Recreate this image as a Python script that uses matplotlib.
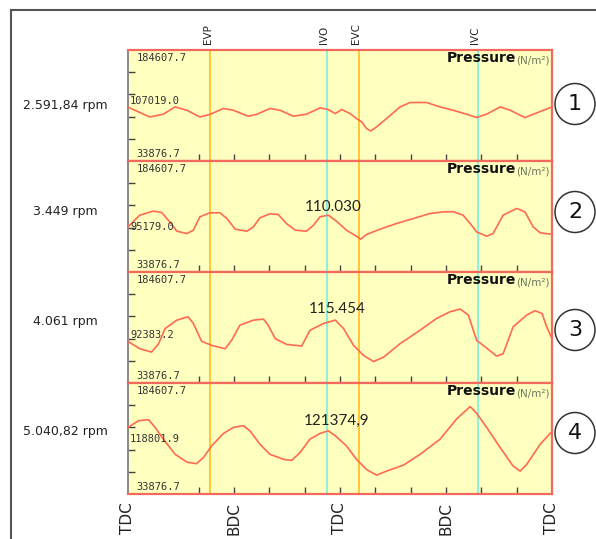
import matplotlib.pyplot as plt
from matplotlib.patches import Ellipse
from matplotlib.lines import Line2D

# crank angle (deg) and cylinder pressure (N/m2), one pair per engine speed
ang1 = [0, 37, 60, 80, 100, 122, 140, 162, 179, 204, 219, 241, 258, 281, 303, 326, 340,
        352, 363, 377, 388, 397, 405, 412, 422, 439, 462, 479, 507, 530, 552, 575, 592,
        609, 632, 649, 674, 694, 720]
pres1 = [107000, 93700, 97400, 107300, 102800, 93700, 97400, 105200, 102800, 94700, 97400,
         105200, 102800, 94700, 97400, 106000, 103800, 98300, 103800, 98300, 91500, 86900,
         77900, 74600, 80100, 91500, 107300, 113300, 113300, 107300, 102800, 97400, 92900,
         97400, 107300, 102800, 92900, 99200, 107300]

ang2 = [0, 20, 43, 57, 71, 83, 100, 111, 122, 139, 156, 168, 182, 202, 213, 224, 241, 255,
        269, 284, 303, 315, 326, 340, 354, 371, 388, 395, 405, 428, 456, 485, 513, 536,
        553, 569, 581, 592, 609, 620, 637, 660, 674, 688, 700, 720]
pres2 = [95180, 111080, 116530, 114710, 102000, 89290, 86120, 90660, 108810, 114260, 114260,
         106540, 92020, 89290, 95190, 107450, 112900, 111990, 99730, 90660, 89290, 97460,
         108810, 111080, 102910, 90660, 82490, 78400, 84760, 92020, 99730, 106540, 113350,
         115620, 115620, 111080, 99730, 88390, 82490, 86120, 111080, 120160, 115620, 95190,
         87020, 85210]

ang3 = [0, 20, 40, 52, 63, 83, 102, 111, 125, 142, 165, 176, 190, 213, 230, 238, 250, 269,
        295, 309, 332, 352, 366, 383, 400, 417, 434, 462, 496, 524, 547, 564, 578, 592,
        609, 626, 637, 654, 677, 691, 703, 711, 720]
pres3 = [90470, 80420, 75850, 87270, 107830, 119250, 123810, 114680, 90470, 84990, 80420,
         91840, 112390, 119250, 120620, 112390, 94120, 86360, 84080, 105540, 114680, 119250,
         107830, 84990, 71290, 63060, 68980, 87270, 105540, 121530, 130670, 134320, 126100,
         91840, 81330, 70370, 73570, 110110, 126100, 132040, 128380, 110110, 94120]

ang4 = [0, 18, 35, 46, 60, 80, 100, 116, 128, 142, 162, 179, 196, 207, 224, 241, 264, 278,
        292, 309, 326, 340, 352, 371, 388, 405, 422, 439, 468, 496, 530, 558, 581, 592,
        609, 632, 654, 666, 677, 700, 720]
pres4 = [124320, 133450, 134820, 124320, 108330, 87780, 77270, 74990, 83210, 99190, 116100,
         124320, 126600, 119750, 101480, 87780, 80920, 79550, 90060, 108330, 116100, 119750,
         112900, 99190, 80920, 67220, 59460, 64940, 73160, 87780, 108330, 135740, 152640,
         143500, 124320, 96910, 71790, 64940, 74070, 101480, 118840]

angles = [ang1, ang2, ang3, ang4]
pressures = [pres1, pres2, pres3, pres4]

rpm_labels = ["2.591,84 rpm", "3.449 rpm", "4.061 rpm", "5.040,82 rpm"]
mid_labels = ["107019.0", "95179.0", "92383.2", "118801.9"]
peak_labels = [None, "110.030", "115.454", "121374,9"]
p_min = 33876.7
p_max = 184607.7

event_names = ["EVP", "IVO", "EVC", "IVC"]
event_angles = [140, 338, 392, 594]
event_colors = ["#ffc22e", "#7ff2dc", "#ffc22e", "#7ff2dc"]

dead_names = ["TDC", "BDC", "TDC", "BDC", "TDC"]
dead_angles = [0, 180, 360, 540, 720]

W, H = 596, 539
fig = plt.figure(figsize=(W / 100, H / 100), dpi=100)

# outer frame (left + top)
fig.add_artist(Line2D([11 / W, 11 / W], [0, 1 - 10 / H], color="#555555", lw=1.5,
                      transform=fig.transFigure))
fig.add_artist(Line2D([11 / W, 1], [1 - 10 / H, 1 - 10 / H], color="#555555", lw=1.5,
                      transform=fig.transFigure))

left_px, right_px = 128, 552
tops_px = [50, 161, 272, 383]
panel_h = 111
mid_y = [0.54, 0.405, 0.43, 0.50]
peak_xy = [None, (0.483, 0.586), (0.493, 0.667), (0.493, 0.655)]
circle_y = [104, 212, 330, 433]
rpm_y = [106, 211, 322, 431]

axes = []
for i in range(4):
    bottom = (H - tops_px[i] - panel_h) / H
    ax = fig.add_axes([left_px / W, bottom, (right_px - left_px) / W, panel_h / H])
    axes.append(ax)
    ax.set_facecolor("#ffffc0")
    ax.set_xlim(0, 720)
    ax.set_ylim(p_min, p_max)

    for a, c in zip(event_angles, event_colors):
        ax.axvline(a, color=c, lw=1.3, zorder=1)
    ax.plot(angles[i], pressures[i], color="#ff6a50", lw=1.2, zorder=3)

    for s in ["top", "bottom", "right"]:
        ax.spines[s].set_color("#f26a5e")
        ax.spines[s].set_linewidth(1.6)
    ax.spines["left"].set_color("#888888")
    ax.spines["left"].set_linewidth(1.4)

    ax.set_xticks(range(120, 720, 60))
    ax.set_yticks([p_min + f * (p_max - p_min) for f in (0.2, 0.4, 0.6, 0.8)])
    ax.tick_params(direction="in", length=5, width=1, color="#444444",
                   labelbottom=False, labelleft=False, top=False, right=False)

    mono = dict(family="DejaVu Sans Mono", fontsize=7.5, color="#333333",
                transform=ax.transAxes, zorder=4)
    ax.text(0.02, 0.97, f"{p_max:.1f}", ha="left", va="top", **mono)
    ax.text(0.02, 0.02, f"{p_min:.1f}", ha="left", va="bottom", **mono)
    ax.text(0.005, mid_y[i], mid_labels[i], ha="left", va="center", **mono)

    unit = ax.text(0.995, 0.95, "(N/m²)", ha="right", va="top", fontsize=7.5,
                   color="#6b7a5e", transform=ax.transAxes, zorder=4)
    ax.annotate("Pressure", xy=(0, 0.05), xycoords=unit, ha="right", va="bottom",
                fontsize=10, fontweight="bold", color="#111111", zorder=4)

    if peak_labels[i]:
        ax.text(peak_xy[i][0], peak_xy[i][1], peak_labels[i], ha="center", va="center",
                family="Lato", fontsize=11, color="#222222", transform=ax.transAxes, zorder=4)

    fig.text(65 / W, 1 - rpm_y[i] / H, rpm_labels[i], ha="center", va="center",
             fontsize=9, color="#222222")

    fig.add_artist(Ellipse((575 / W, 1 - circle_y[i] / H), 40 / W, 41 / H,
                           transform=fig.transFigure, facecolor="white",
                           edgecolor="#333333", lw=1.1))
    fig.text(575 / W, 1 - circle_y[i] / H, str(i + 1), ha="center", va="center",
             fontsize=16, color="#111111")

# event labels above the top panel
for name, a in zip(event_names, event_angles):
    axes[0].annotate(name, xy=(a, 1), xycoords=("data", "axes fraction"),
                     xytext=(-2, 4), textcoords="offset points", rotation=90,
                     ha="center", va="bottom", fontsize=7.5, color="#222222")

# dead centre labels below the bottom panel
for name, a in zip(dead_names, dead_angles):
    axes[3].annotate(name, xy=(a, 0), xycoords=("data", "axes fraction"),
                     xytext=(0, -6), textcoords="offset points", rotation=90,
                     ha="center", va="top", fontsize=11, color="#222222")

fig.savefig("out.png", dpi=100)
